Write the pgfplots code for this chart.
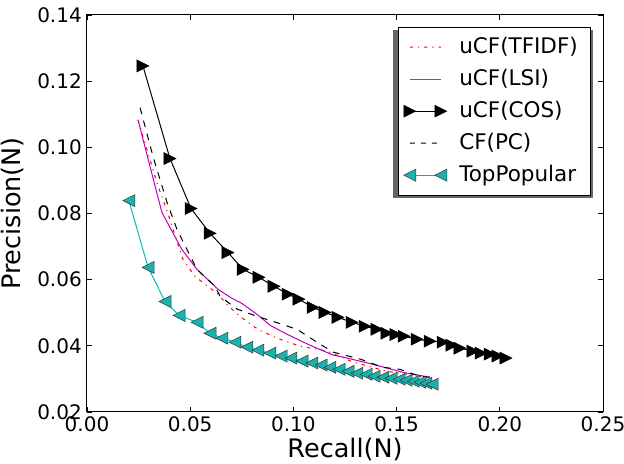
\documentclass[border=0pt]{standalone}
\usepackage{fontspec}
\setmainfont{DejaVu Sans}
\usepackage{pgfplots}
\pgfplotsset{compat=1.18}
\definecolor{mcyan}{rgb}{0,0.75,0.75}
\definecolor{mmag}{rgb}{0.75,0,0.75}
\definecolor{tpfill}{rgb}{0.1,0.7,0.68}
\definecolor{medge}{gray}{0.2}

\pgfdeclareplotmark{triR}{%
  \pgfpathmoveto{\pgfqpoint{\pgfplotmarksize}{0pt}}%
  \pgfpathlineto{\pgfqpoint{-\pgfplotmarksize}{\pgfplotmarksize}}%
  \pgfpathlineto{\pgfqpoint{-\pgfplotmarksize}{-\pgfplotmarksize}}%
  \pgfpathclose
  \pgfusepathqfillstroke}
\pgfdeclareplotmark{triL}{%
  \pgfpathmoveto{\pgfqpoint{-\pgfplotmarksize}{0pt}}%
  \pgfpathlineto{\pgfqpoint{\pgfplotmarksize}{\pgfplotmarksize}}%
  \pgfpathlineto{\pgfqpoint{\pgfplotmarksize}{-\pgfplotmarksize}}%
  \pgfpathclose
  \pgfusepathqfillstroke}

% legend samples: line segments as thin filled bars
\newcommand\legseg[2]{\pgfpathrectangle{\pgfpoint{#1}{-0.5pt}}{\pgfpoint{#2}{1pt}}}
\newcommand\legfill[1]{\pgfsetfillcolor{#1}\pgfusepath{fill}}
\newcommand\legmarks[3]{% mark, fill, edge
  \pgfsetlinewidth{0.5pt}\pgfsetfillcolor{#2}\pgfsetstrokecolor{#3}\pgfplotmarksize=6pt
  \pgfuseplotmark{#1}%
  \pgftransformshift{\pgfpoint{31pt}{0pt}}\pgfuseplotmark{#1}}

\begin{document}
\begin{tikzpicture}
\begin{axis}[
  scale only axis, width=516pt, height=397pt,
  xmin=0, xmax=0.25, ymin=0.02, ymax=0.14,
  xtick={0,0.05,0.10,0.15,0.20,0.25},
  ytick={0.02,0.04,0.06,0.08,0.10,0.12,0.14},
  scaled ticks=false,
  tick align=inside, major tick length=5pt,
  tick style={black, line width=0.8pt},
  axis line style={black, line width=1pt},
  /pgf/number format/assume math mode=true,
  ticklabel style={font=\fontsize{20}{24}\selectfont},
  xticklabel style={anchor=base, yshift=-20pt, /pgf/number format/.cd, fixed, fixed zerofill, precision=2},
  yticklabel style={anchor=east, inner sep=0pt, xshift=-5pt, /pgf/number format/.cd, fixed, fixed zerofill, precision=2},
  xlabel={Recall(N)}, ylabel={Precision(N)},
  every axis x label/.style={at={(axis description cs:0.5,-0.1134)}, anchor=base, font=\fontsize{25.5}{30}\selectfont},
  every axis y label/.style={at={(axis description cs:-0.1298,0.5)}, rotate=90, anchor=base, font=\fontsize{25.5}{30}\selectfont},
  legend cell align=left,
  legend style={at={(axis description cs:1,1)}, anchor=north east, xshift=-13pt, yshift=-12pt,
    font=\fontsize{21.5}{25}\selectfont,
    inner xsep=5.5pt, inner ysep=4pt,
    nodes={inner xsep=6.5pt, inner ysep=5pt, text height=17pt, text depth=5pt},
    /tikz/every odd column/.append style={column sep=6pt}},
]
% legend shadow (decoration, drawn below the legend box)
\fill[black!60] (rel axis cs:0.5935,0.5390) rectangle (rel axis cs:0.9806,0.9622);
% uCF(TFIDF)
\addplot[color=red, line width=1pt, dash pattern=on 3.3pt off 5pt on 1.1pt off 5pt,
  legend image code/.code={\legseg{0pt}{3.3pt}\legseg{8.3pt}{1.1pt}\legseg{14.4pt}{3.3pt}\legseg{22.7pt}{1.1pt}\legseg{28.8pt}{2.2pt}\legfill{red}}] coordinates {
(0.0247,0.1083) (0.0339,0.0893) (0.0392,0.0800) (0.0465,0.0661) (0.0523,0.0610)
(0.0572,0.0586) (0.0635,0.0556) (0.0678,0.0525) (0.0741,0.0489) (0.0828,0.0450)
(0.0921,0.0423) (0.1032,0.0399) (0.1163,0.0384) (0.1289,0.0351) (0.1453,0.0323)
(0.1613,0.0308) (0.1672,0.0299)
};
\addlegendentry{uCF(TFIDF)}
% uCF(LSI)
\addplot[color=mmag, line width=1pt,
  legend image code/.code={\legseg{0pt}{31pt}\legfill{magenta!75!black}}] coordinates {
(0.0247,0.1083) (0.0363,0.0803) (0.0460,0.0691) (0.0533,0.0631) (0.0635,0.0571)
(0.0693,0.0547) (0.0751,0.0528) (0.0824,0.0495) (0.0887,0.0462) (0.0969,0.0435)
(0.1080,0.0402) (0.1192,0.0372) (0.1240,0.0366) (0.1380,0.0345) (0.1530,0.0320)
(0.1662,0.0305)
};
\addlegendentry{uCF(LSI)}
% uCF(COS)
\addplot[color=black, line width=1pt, mark=triR, mark size=6pt, mark options={solid, fill=black, draw=black, line width=0.5pt},
  legend image code/.code={\legseg{0pt}{31pt}\legfill{black}\legmarks{triR}{black}{black}}] coordinates {
(0.0271,0.1246) (0.0402,0.0966) (0.0504,0.0815) (0.0596,0.0740) (0.0683,0.0682)
(0.0756,0.0631) (0.0833,0.0607) (0.0906,0.0580) (0.0974,0.0556) (0.1027,0.0541)
(0.1095,0.0516) (0.1153,0.0501) (0.1216,0.0486) (0.1284,0.0471) (0.1347,0.0459)
(0.1405,0.0450) (0.1453,0.0438) (0.1497,0.0434) (0.1536,0.0429) (0.1599,0.0420)
(0.1662,0.0414) (0.1725,0.0411) (0.1768,0.0402) (0.1807,0.0393) (0.1870,0.0384)
(0.1909,0.0378) (0.1953,0.0375) (0.1991,0.0369) (0.2030,0.0363)
};
\addlegendentry{uCF(COS)}
% CF(PC)
\addplot[color=black, line width=1pt, dash pattern=on 6.7pt off 6.7pt,
  legend image code/.code={\legseg{0pt}{5pt}\legseg{11pt}{5pt}\legseg{22pt}{5pt}\legfill{black}}] coordinates {
(0.0257,0.1120) (0.0320,0.0972) (0.0388,0.0833) (0.0436,0.0752) (0.0533,0.0631)
(0.0620,0.0580) (0.0644,0.0550) (0.0727,0.0511) (0.0824,0.0489) (0.0901,0.0474)
(0.1017,0.0450) (0.1114,0.0411) (0.1192,0.0381) (0.1323,0.0360) (0.1434,0.0335)
(0.1516,0.0329) (0.1613,0.0308) (0.1662,0.0305)
};
\addlegendentry{CF(PC)}
% TopPopular
\addplot[color=mcyan, line width=1pt, mark=triL, mark size=6pt, mark options={solid, fill=tpfill, draw=medge, line width=0.5pt},
  legend image code/.code={\legseg{0pt}{31pt}\legfill{cyan!75!black}\legmarks{triL}{tpfill}{medge}}] coordinates {
(0.0203,0.0839) (0.0296,0.0637) (0.0378,0.0534) (0.0446,0.0492) (0.0533,0.0471)
(0.0596,0.0438) (0.0654,0.0423) (0.0717,0.0411) (0.0775,0.0396) (0.0828,0.0387)
(0.0886,0.0378) (0.0940,0.0369) (0.0988,0.0363) (0.1042,0.0354) (0.1090,0.0348)
(0.1134,0.0342) (0.1177,0.0335) (0.1221,0.0329) (0.1265,0.0323) (0.1308,0.0317)
(0.1352,0.0314) (0.1391,0.0308) (0.1434,0.0305) (0.1473,0.0302) (0.1512,0.0299)
(0.1546,0.0296) (0.1580,0.0293) (0.1613,0.0290) (0.1642,0.0287) (0.1672,0.0284)
};
\addlegendentry{TopPopular}
\end{axis}
\pgfresetboundingbox
\path[use as bounding box] ([shift={(-87pt,-52pt)}]current axis.south west) rectangle ([shift={(21pt,15pt)}]current axis.north east);
\end{tikzpicture}
\end{document}
